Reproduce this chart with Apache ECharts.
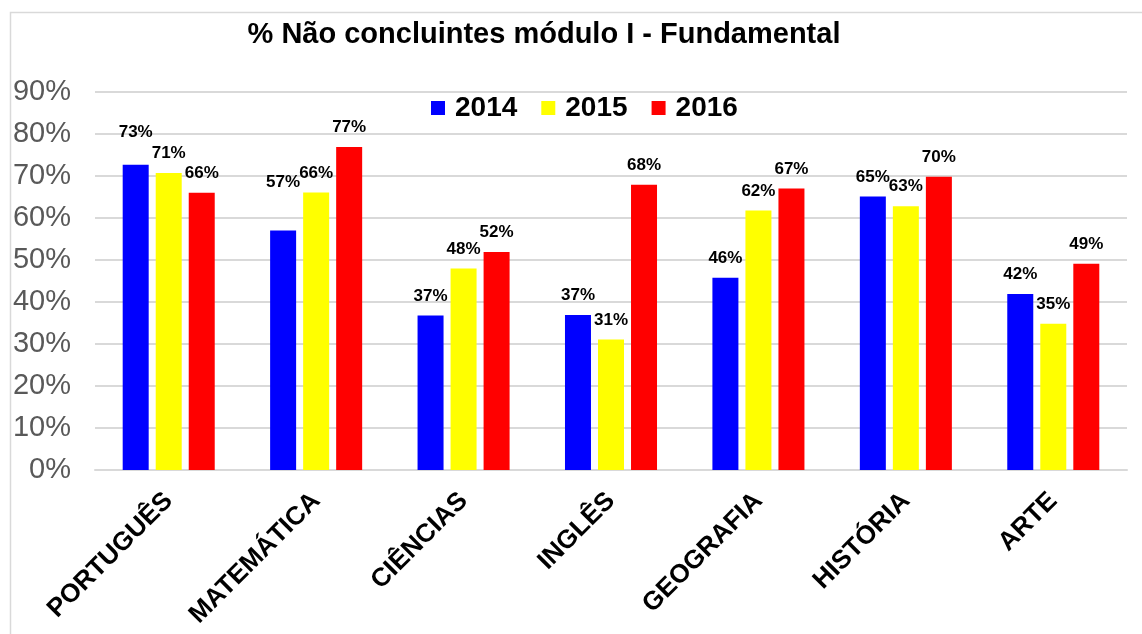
<!DOCTYPE html>
<html>
<head>
<meta charset="utf-8">
<script src="https://cdn.jsdelivr.net/npm/echarts@6/dist/echarts.min.js"></script>
<style>
  html, body { margin: 0; padding: 0; background: #fff; }
  #chart { width: 1142px; height: 634px; }
</style>
</head>
<body>
<div id="chart"></div>
<script>
  // disciplinas e percentuais de não concluintes
  const disciplinas = ['PORTUGUÊS', 'MATEMÁTICA', 'CIÊNCIAS', 'INGLÊS', 'GEOGRAFIA', 'HISTÓRIA', 'ARTE'];
  const anos = ['2014', '2015', '2016'];
  const valores2014 = [72.7, 57.0, 36.8, 36.9, 45.8, 65.1, 41.9];
  const valores2015 = [70.7, 66.1, 48.0, 31.1, 61.8, 62.8, 34.8];
  const valores2016 = [66.0, 76.9, 51.9, 67.9, 67.0, 69.8, 49.1];
  const yTicks = [0, 10, 20, 30, 40, 50, 60, 70, 80, 90];

  const cores = ['#0000FF', '#FFFF00', '#FF0000'];
  // rótulos que foram deslocados manualmente no original (serie-indice -> distancia)
  const rotuloAjuste = { '0-0': 24, '0-1': 40 };

  const chart = echarts.init(document.getElementById('chart'));

  function montaSerie(nome, valores, s) {
    return {
      name: nome,
      type: 'bar',
      barWidth: 26,
      barGap: '27%',
      itemStyle: { color: cores[s] },
      label: {
        show: true,
        position: 'top',
        distance: 11,
        color: '#000',
        fontWeight: 'bold',
        fontSize: 17,
        fontFamily: 'Liberation Sans, Arial, sans-serif',
        formatter: p => Math.round(p.value) + '%'
      },
      data: valores.map((v, i) => {
        const d = rotuloAjuste[s + '-' + i];
        return d ? { value: v, label: { distance: d } } : v;
      })
    };
  }

  let option = {
    animation: false,
    backgroundColor: '#fff',
    textStyle: { fontFamily: 'Liberation Sans, Arial, sans-serif' },
    graphic: [{
      type: 'rect',
      left: 8, top: 10,
      shape: { width: 1300, height: 800 },
      style: { fill: 'none', stroke: '#d9d9d9', lineWidth: 1.5 },
      silent: true
    }],
    title: {
      text: '% Não concluintes módulo I - Fundamental',
      left: 539,
      textAlign: 'center',
      top: 15,
      textStyle: { fontSize: 29, fontWeight: 'bold', color: '#000' }
    },
    legend: {
      data: anos,
      top: 89,
      left: 426,
      icon: 'rect',
      itemWidth: 14,
      itemHeight: 14,
      itemGap: 24,
      textStyle: { fontSize: 28, fontWeight: 'bold', color: '#000', padding: [0, 0, 0, 5] }
    },
    grid: { left: 95, right: 15, top: 92, bottom: 164, containLabel: false },
    xAxis: {
      type: 'category',
      data: disciplinas,
      axisLine: { lineStyle: { color: '#d9d9d9', width: 2 } },
      axisTick: { show: false },
      axisLabel: {
        rotate: 45,
        margin: 27,
        interval: 0,
        fontSize: 26,
        fontWeight: 'bold',
        color: '#000'
      }
    },
    yAxis: {
      type: 'value',
      min: 0,
      max: 90,
      interval: 10,
      axisLine: { show: false },
      axisTick: { show: false },
      splitLine: { lineStyle: { color: '#d9d9d9', width: 2 } },
      axisLabel: {
        fontSize: 29,
        color: '#595959',
        margin: 24,
        formatter: v => yTicks.indexOf(v) >= 0 ? v + '%' : ''
      }
    },
    series: [
      montaSerie(anos[0], valores2014, 0),
      montaSerie(anos[1], valores2015, 1),
      montaSerie(anos[2], valores2016, 2)
    ]
  };

  chart.setOption(option);
</script>
</body>
</html>
